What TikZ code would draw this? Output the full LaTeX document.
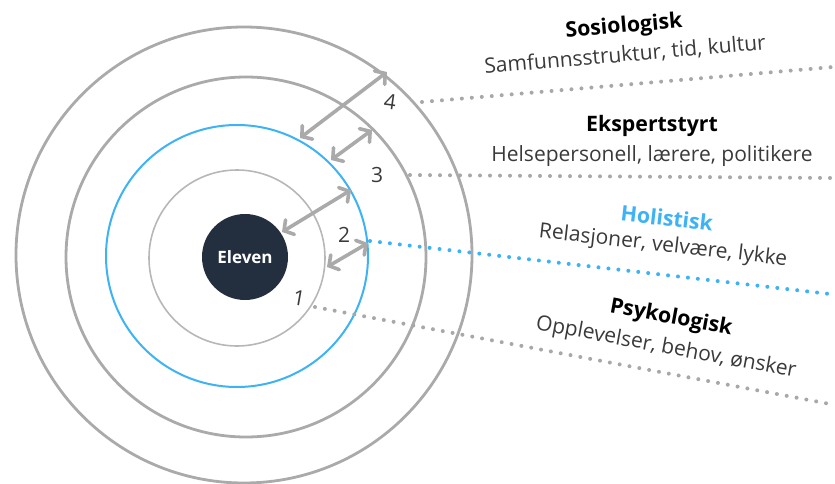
\documentclass[tikz,border=0pt]{standalone}
\usepackage{fontspec}
\setmainfont{Open Sans}
\usetikzlibrary{arrows.meta}
\definecolor{ringgray}{HTML}{AAAAAA}
\definecolor{ringblue}{HTML}{3DB2F5}
\definecolor{darknavy}{HTML}{232F3F}
\definecolor{txtgray}{HTML}{3A3A3A}
\definecolor{dotgray}{HTML}{A8A8A8}
\tikzset{
  ring/.style={draw=ringgray, line width=2.8pt},
  thinring/.style={draw=ringgray!85, line width=1.6pt},
  bluering/.style={draw=ringblue, line width=2pt},
  gap/.style={draw=ringgray, line width=3.6pt, line cap=round,
    {Straight Barb[length=7pt,width=17pt,line cap=round]}-{Straight Barb[length=7pt,width=17pt,line cap=round]}},
  dotline/.style={draw=dotgray, line width=4pt, line cap=round, dash pattern=on 0pt off 10pt},
  bluedot/.style={dotline, draw=ringblue},
  numlbl/.style={text=txtgray, font=\fontsize{21}{24}\selectfont, inner sep=0pt},
  title/.style={text=black, font=\fontsize{21.3}{24}\selectfont\bfseries, inner sep=0pt},
  subtitle/.style={text=txtgray, font=\fontsize{21}{24}\selectfont, inner sep=0pt},
}
\begin{document}
\begin{tikzpicture}[x=1pt,y=-1pt]
\useasboundingbox (0,0) rectangle (835,484);
% rings
\draw[ring] (244,255) circle[radius=228pt];
\draw[ring] (246,257) circle[radius=180pt];
\draw[bluering] (237,256) circle[radius=131pt];
\draw[thinring] (237,258) circle[radius=88pt];
\node[circle, fill=darknavy, minimum size=86pt, inner sep=0pt, text=white,
  font=\fontsize{17}{20}\selectfont\bfseries] (eleven) at (245,257) {Eleven};
% arrow end points
\coordinate (a4o) at (387,72);
\coordinate (a4i) at (300,138);
\coordinate (a3o) at (372,130);
\coordinate (a3i) at (331,160);
\coordinate (a2o) at (351,190);
\coordinate (a2i) at (282,232);
\coordinate (a1o) at (368,243);
\coordinate (a1i) at (327,267);
\draw[gap] (a4i) -- (a4o);
\draw[gap] (a3i) -- (a3o);
\draw[gap] (a2i) -- (a2o);
\draw[gap] (a1i) -- (a1o);
% numbers
\node[numlbl, rotate=-8] (n4) at (390,102) {4};
\node[numlbl] (n3) at (377,175) {3};
\node[numlbl] (n2) at (344,235) {2};
\node[numlbl, rotate=-10] (n1) at (299,298) {1};
% dotted leader lines
\coordinate (d4s) at (422,102);
\coordinate (d4e) at (833,67);
\coordinate (d3s) at (410,175);
\coordinate (d3e) at (833,178);
\coordinate (d2s) at (370,241);
\coordinate (d2e) at (830,294);
\coordinate (d1s) at (315,307);
\coordinate (d1e) at (830,404);
\draw[dotline] (d4s) -- (d4e);
\draw[dotline] (d3s) -- (d3e);
\draw[bluedot] (d2s) -- (d2e);
\draw[dotline] (d1s) -- (d1e);
% texts
\node[title, rotate=5] (t4) at (624,27) {Sosiologisk};
\node[subtitle, rotate=5] (s4) at (625,55) {Samfunnsstruktur, tid, kultur};
\node[title] (t3) at (652,126) {Ekspertstyrt};
\node[subtitle] (s3) at (652,156) {Helsepersonell, lærere, politikere};
\node[title, text=ringblue, rotate=-6.5] (t2) at (667,218) {Holistisk};
\node[subtitle, rotate=-6.5] (s2) at (663,246) {Relasjoner, velvære, lykke};
\node[title, rotate=-10.5] (t1) at (671,318) {Psykologisk};
\node[subtitle, rotate=-10.5] (s1) at (666,348) {Opplevelser, behov, ønsker};
\end{tikzpicture}
\end{document}
